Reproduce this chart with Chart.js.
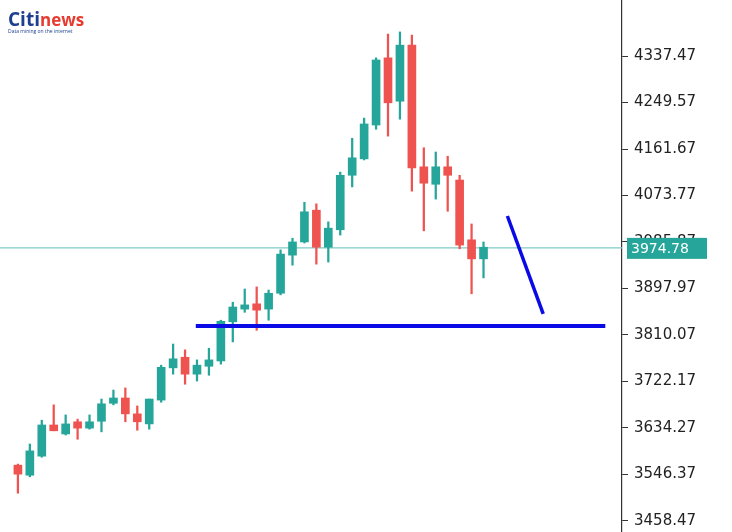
<!DOCTYPE html>
<html><head><meta charset="utf-8">
<script src="https://cdn.jsdelivr.net/npm/chart.js@4"></script>
<style>
body{margin:0;background:#fff;overflow:hidden}
#wrap{position:relative;width:732px;height:532px;overflow:hidden}
#c{position:absolute;left:0;top:-19px}
#logo{position:absolute;left:8px;top:6px;font-family:"Open Sans",sans-serif;z-index:2}
#logo b{font-size:19px;color:#1d3f8f}#logo i{font-style:normal;color:#e63b2e;font-weight:bold;font-size:17px}
#logo div{font-size:5px;color:#1d3f8f;margin-top:-4px}
</style></head><body>
<div id="wrap"><div id="logo"><b>Citi</b><i>news</i><div>Data mining on the internet</div></div>
<canvas id="c" width="732" height="570"></canvas></div>
<script>
const opens  = [3564,3545,3581,3640,3623,3646,3634,3647,3681,3691,3661,3642,3687,3748,3768,3736,3751,3761,3835,3859,3869,3859,3889,3961,3986,4046,3976,4009,4112,4143,4207,4334,4252,4358,4128,4095,4128,4103,3990,3954];
const highs  = [3566,3604,3649,3678,3659,3651,3659,3689,3706,3710,3676,3689,3753,3793,3782,3763,3785,3838,3872,3897,3901,3895,3971,3993,4061,4058,4024,4118,4182,4220,4334,4379,4383,4377,4164,4156,4148,4112,4020,3986];
const lows   = [3511,3542,3579,3629,3621,3613,3632,3627,3678,3646,3630,3632,3683,3736,3717,3723,3734,3755,3797,3853,3819,3838,3886,3942,3984,3944,3948,3999,4090,4141,4199,4186,4218,4082,4007,4067,4044,3973,3888,3918];
const closes = [3547,3591,3640,3629,3642,3634,3646,3680,3691,3661,3646,3689,3749,3765,3736,3753,3763,3836,3863,3867,3857,3889,3963,3986,4043,3976,4012,4112,4145,4209,4330,4249,4358,4126,4097,4128,4112,3980,3954,3976];
const tickValues = [3458.47,3546.37,3634.27,3722.17,3810.07,3897.97,3985.87,4073.77,4161.67,4249.57,4337.47];
const lastPrice = 3974.78;
const supportLevel = 3827;
const arrowLine = [{x:42,y:4035},{x:45,y:3850}];

const up = '#26a69a', down = '#ef5350';
const idx = opens.map((_, i) => i + 1);
const col = opens.map((o, i) => closes[i] >= o ? up : down);

const priceTag = {
  id: 'priceTag',
  afterDraw(ch) {
    const {ctx, scales: {y}, chartArea: a} = ch;
    const py = y.getPixelForValue(lastPrice);
    ctx.save();
    ctx.fillStyle = '#26a69a';
    ctx.fillRect(a.right + 5, py - 10, 80, 21);
    ctx.fillStyle = '#fff';
    ctx.font = '14px "DejaVu Sans"';
    ctx.textBaseline = 'middle';
    ctx.fillText(lastPrice.toFixed(2), a.right + 9, py + 1);
    ctx.restore();
  }
};

new Chart(document.getElementById('c'), {
  data: {
    datasets: [
      {type:'line', data:[{x:-1.5,y:lastPrice},{x:51.6,y:lastPrice}], borderColor:'#7fcbc4', borderWidth:1.2, pointRadius:0, order:5},
      {type:'bar', data: idx.map((x, i) => ({x, y:[lows[i], highs[i]]})), backgroundColor: col, barThickness:1.6, grouped:false, order:3},
      {type:'bar', data: idx.map((x, i) => ({x, y:[Math.min(opens[i],closes[i]), Math.max(opens[i],closes[i]) + (opens[i]===closes[i]?2:0)]})), backgroundColor: col, barThickness:8, grouped:false, order:2},
      {type:'line', data:[{x:15.9,y:supportLevel},{x:50.2,y:supportLevel}], borderColor:'#0a0ae6', borderWidth:4, pointRadius:0, order:1},
      {type:'line', data: arrowLine, borderColor:'#0a0ae6', borderWidth:3.5, pointRadius:0, order:1}
    ]
  },
  options: {
    responsive:false, animation:false,
    layout:{padding:0},
    plugins:{legend:{display:false}, tooltip:{enabled:false}},
    scales:{
      x:{type:'linear', offset:false, min:-0.5, max:51.6, display:false, grid:{display:false}},
      y:{position:'right', min:3430.1, max:4450.9,
        afterBuildTicks: s => { s.ticks = tickValues.map(v => ({value:v})); },
        afterFit: s => { s.width = 110; },
        ticks:{color:'#222', font:{size:15, family:'"DejaVu Sans"'}, padding:6, callback: v => v.toFixed(2)},
        grid:{display:true, drawOnChartArea:false, tickLength:6, color:'#333'},
        border:{display:true, color:'#333', width:1.2}}
    }
  },
  plugins:[priceTag]
});
</script></body></html>
